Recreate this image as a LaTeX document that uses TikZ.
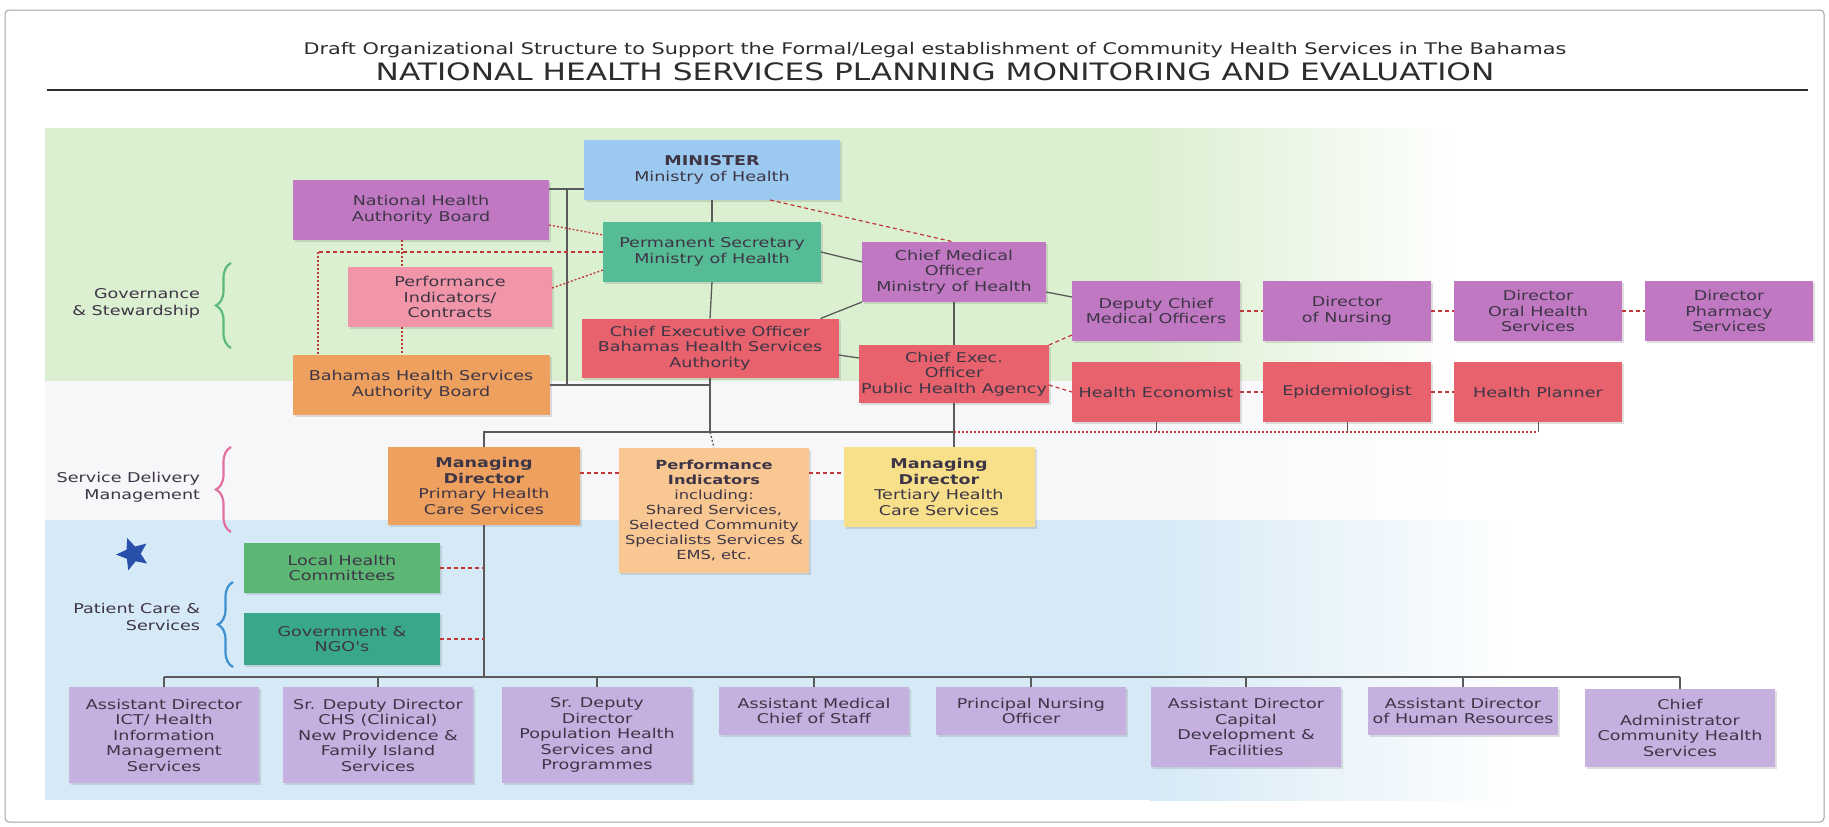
\documentclass[tikz,border=0pt]{standalone}
\usepackage{fontspec}
\newfontfamily\widefont[FakeStretch=1.3]{DejaVu Sans}
\definecolor{Blu}{RGB}{155,201,240}
\definecolor{Pur}{RGB}{192,120,194}
\definecolor{Tea}{RGB}{86,188,150}
\definecolor{Pnk}{RGB}{240,150,168}
\definecolor{Rdb}{RGB}{231,98,108}
\definecolor{Org}{RGB}{238,160,94}
\definecolor{Pch}{RGB}{248,199,146}
\definecolor{Yel}{RGB}{248,224,138}
\definecolor{Grn}{RGB}{92,183,116}
\definecolor{Tel}{RGB}{57,168,138}
\definecolor{Lav}{RGB}{197,176,224}
\definecolor{Txt}{RGB}{62,54,70}
\definecolor{Ttl}{RGB}{45,45,45}
\definecolor{Lin}{RGB}{90,90,90}
\definecolor{Dsh}{RGB}{192,55,55}
\definecolor{BgG}{RGB}{219,239,209}
\definecolor{BgM}{RGB}{247,246,249}
\definecolor{BgB}{RGB}{213,233,246}
\definecolor{Bgr}{RGB}{93,187,122}
\definecolor{Bpk}{RGB}{224,112,160}
\definecolor{Bbl}{RGB}{61,143,208}
\definecolor{Str}{RGB}{40,80,170}
\definecolor{Frm}{RGB}{160,160,160}
\usepackage{tikz}
\usetikzlibrary{positioning}
\usetikzlibrary{shadows}
\usetikzlibrary{shapes.geometric}
\usetikzlibrary{decorations.pathreplacing}
\tikzstyle{base}=[x=1pt, y=-1pt, inner sep=0pt, outer sep=0pt]
\tikzstyle{box}=[align=center, inner sep=2pt, text=Txt, font=\widefont\fontsize{13.5}{15.5}\selectfont, drop shadow={shadow xshift=2pt, shadow yshift=-2pt, opacity=0.25}]
\tikzstyle{lowbox}=[box, fill=Lav, anchor=north, minimum width=190pt]
\tikzstyle{conn}=[draw=Lin, line width=1.3pt]
\tikzstyle{dsh}=[draw=Dsh, line width=1.2pt, dash pattern=on 4pt off 3pt]
\tikzstyle{dot}=[draw=Dsh, line width=1.3pt, dash pattern=on 2pt off 2pt]
\tikzstyle{grp}=[decorate, decoration={brace, amplitude=15pt}, line width=2.2pt]
\tikzstyle{side}=[anchor=east, align=right, text=Txt, font=\widefont\fontsize{13.5}{17}\selectfont]

\begin{document}
\begin{tikzpicture}[base]
    \widefont
        \useasboundingbox (0,0) rectangle (1829,827);
        \fill [white] (0,0) rectangle (1829,827);
        \fill [BgG] (45,128) rectangle (1150,381);
        \shade [left color=BgG, right color=white] (1150,128) rectangle (1460,381);
        \fill [BgM] (45,381) rectangle (1150,520);
        \shade [left color=BgM, right color=white] (1150,381) rectangle (1460,520);
        \fill [BgB] (45,520) rectangle (1150,800);
        \shade [left color=BgB, right color=white] (1150,520) rectangle (1520,800);
        \draw [Frm, line width=1pt, rounded corners=4pt] (5,10) rectangle (1824,822);

        \node [text=Ttl, font=\widefont\fontsize{16}{19}\selectfont] (sub) at (935,50) {Draft Organizational Structure to Support the Formal/Legal establishment of Community Health Services in The Bahamas};
        \node [text=Ttl, font=\widefont\fontsize{24}{28}\selectfont] (ttl) at (935,72) {NATIONAL HEALTH SERVICES PLANNING MONITORING AND EVALUATION};
        \draw [Ttl, line width=2pt] (47,90) -- (1808,90);

        \node [box, fill=Blu, minimum width=256pt, minimum height=60pt] (min) at (712,170) {\bfseries MINISTER\\Ministry of Health};
        \node [box, fill=Pur, minimum width=256pt, minimum height=60pt] (nhab) at (421,210) {National Health\\Authority Board};
        \node [box, fill=Tea, minimum width=218pt, minimum height=60pt] (ps) at (712,252) {Permanent Secretary\\Ministry of Health};
        \node [box, fill=Pur, minimum width=184pt, minimum height=60pt] (cmo) at (954,272) {Chief Medical\\Officer\\Ministry of Health};
        \node [box, fill=Pnk, minimum width=204pt, minimum height=60pt] (pic) at (450,297) {Performance\\Indicators/\\Contracts};
        \node [box, fill=Rdb, minimum width=257pt, minimum height=59pt] (ceo) at (710,348) {Chief Executive Officer\\Bahamas Health Services\\Authority};
        \node [box, fill=Rdb, minimum width=186pt, minimum height=58pt] (pha) at (954,374) {Chief Exec.\\Officer\\Public Health Agency};
        \node [box, fill=Org, minimum width=257pt, minimum height=60pt] (bhsab) at (421,385) {Bahamas Health Services\\Authority Board};

        \node [box, fill=Pur, minimum width=168pt, minimum height=60pt] (dcmo) at (1156,311) {Deputy Chief\\Medical Officers};
        \node [box, fill=Pur, minimum width=168pt, minimum height=60pt, right=23pt of dcmo] (dnur) {Director\\of Nursing};
        \node [box, fill=Pur, minimum width=168pt, minimum height=60pt, right=23pt of dnur] (doral) {Director\\Oral Health\\Services};
        \node [box, fill=Pur, minimum width=168pt, minimum height=60pt, right=23pt of doral] (dphar) {Director\\Pharmacy\\Services};
        \node [box, fill=Rdb, minimum width=168pt, minimum height=60pt] (hec) at (1156,392) {Health Economist};
        \node [box, fill=Rdb, minimum width=168pt, minimum height=60pt, right=23pt of hec] (epi) {Epidemiologist};
        \node [box, fill=Rdb, minimum width=168pt, minimum height=60pt, right=23pt of epi] (hpl) {Health Planner};

        \node [box, fill=Org, minimum width=192pt, minimum height=78pt] (mdp) at (484,486) {\bfseries Managing\\\bfseries Director\\Primary Health\\Care Services};
        \node [box, fill=Pch, minimum width=190pt, minimum height=125pt, font=\widefont\fontsize{12.5}{15}\selectfont] (pi) at (714,510) {\bfseries Performance\\\bfseries Indicators\\including:\\Shared Services,\\Selected Community\\Specialists Services \&\\EMS, etc.};
        \node [box, fill=Yel, minimum width=191pt, minimum height=80pt] (mdt) at (939,487) {\bfseries Managing\\\bfseries Director\\Tertiary Health\\Care Services};
        \node [box, fill=Grn, minimum width=196pt, minimum height=50pt] (lhc) at (342,568) {Local Health\\Committees};
        \node [box, fill=Tel, minimum width=196pt, minimum height=52pt] (gov) at (342,639) {Government \&\\NGO's};

        \node [lowbox, minimum height=96pt] (b1) at (164,687) {Assistant Director\\ICT/ Health\\Information\\Management\\Services};
        \node [lowbox, minimum height=96pt] (b2) at (378,687) {Sr. Deputy Director\\CHS (Clinical)\\New Providence \&\\Family Island\\Services};
        \node [lowbox, minimum height=96pt] (b3) at (597,687) {Sr. Deputy\\Director\\Population Health\\Services and\\Programmes};
        \node [lowbox, minimum height=48pt] (b4) at (814,687) {Assistant Medical\\Chief of Staff};
        \node [lowbox, minimum height=48pt] (b5) at (1031,687) {Principal Nursing\\Officer};
        \node [lowbox, minimum height=80pt] (b6) at (1246,687) {Assistant Director\\Capital\\Development \&\\Facilities};
        \node [lowbox, minimum height=48pt] (b7) at (1463,687) {Assistant Director\\of Human Resources};
        \node [lowbox, minimum height=78pt] (b8) at (1680,689) {Chief\\Administrator\\Community Health\\Services};

        \node [side] (gslab) at (200,303) {Governance\\\& Stewardship};
        \node [side] (sdlab) at (200,487) {Service Delivery\\Management};
        \node [side] (pclab) at (200,617) {Patient Care \&\\Services};
        \draw [grp, Bgr] (231,348) -- (231,263);
        \draw [grp, Bpk] (231,532) -- (231,447);
        \draw [grp, Bbl] (233,667) -- (233,582);
        \node [star, star points=5, star point ratio=2.2, fill=Str, minimum size=34pt, rotate=20] (icon) at (133,554) {};

        \coordinate (trunk) at (567,189);
        \coordinate (mdbar) at (0,432);
        \coordinate (lowbar) at (0,677);
        \coordinate (pcorner) at (318,252);
        \coordinate (pline) at (402,0);

        \draw [conn] (nhab.east |- trunk) -- (min.west |- trunk);
        \draw [conn] (trunk) -- (trunk |- bhsab.east);
        \draw [conn] (bhsab.east) -- (ceo.south |- bhsab.east);
        \draw [conn] (min.south) -- (ps.north);
        \draw [conn] (ps.south) -- (ceo.north);
        \draw [conn] (ceo.south) -- (ceo.south |- mdbar);
        \draw [conn] (mdp.north) -- (mdp.north |- mdbar) -- (pha.south |- mdbar);
        \draw [conn] (cmo.south) -- (pha.north);
        \draw [conn] (pha.south) -- (pha.south |- mdt.north);
        \draw [dot, draw=Lin] (ceo.south |- mdbar) -- (pi.north);
        \draw [conn] (ps.east) -- ([yshift=10pt]cmo.west);
        \draw [conn] ([xshift=-18pt]ceo.north east) -- (cmo.south west);
        \draw [conn] ([yshift=-7pt]ceo.east) -- ([yshift=16pt]pha.west);
        \draw [conn] ([yshift=-20pt]cmo.east) -- ([yshift=14pt]dcmo.west);

        \draw [dsh] ([xshift=58pt]min.south) -- (cmo.north);
        \draw [dsh] (pha.north east) -- ([yshift=6pt]dcmo.south west);
        \draw [dsh] ([yshift=-11pt]pha.east) -- (hec.west);
        \draw [dsh] (dcmo.east) -- (dnur.west);
        \draw [dsh] (dnur.east) -- (doral.west);
        \draw [dsh] (doral.east) -- (dphar.west);
        \draw [dsh] (hec.east) -- (epi.west);
        \draw [dsh] (epi.east) -- (hpl.west);
        \draw [dot] (pha.south |- mdbar) -- (hpl.south |- mdbar);
        \draw [conn, line width=1pt] (hec.south) -- (hec.south |- mdbar);
        \draw [conn, line width=1pt] (epi.south) -- (epi.south |- mdbar);
        \draw [conn, line width=1pt] (hpl.south) -- (hpl.south |- mdbar);

        \draw [dot] ([yshift=-15pt]nhab.east) -- ([yshift=17pt]ps.west);
        \draw [dsh] (ps.west) -- (pcorner);
        \draw [dot] (pcorner) -- (pcorner |- bhsab.north);
        \draw [dot] (nhab.south -| pline) -- (pic.north -| pline);
        \draw [dot] (pic.south -| pline) -- (bhsab.north -| pline);
        \draw [dot] ([yshift=9pt]pic.east) -- ([yshift=-18pt]ps.west);

        \draw [dsh] ([yshift=13pt]mdp.east) -- ([yshift=13pt]mdp.east -| pi.west);
        \draw [dsh] ([yshift=13pt]mdp.east -| pi.east) -- ([yshift=13pt]mdp.east -| mdt.west);
        \draw [conn] (mdp.south) -- (mdp.south |- lowbar);
        \draw [dsh] (lhc.east) -- (lhc.east -| mdp.south);
        \draw [dsh] (gov.east) -- (gov.east -| mdp.south);

        \draw [conn] (b1.north |- lowbar) -- (b8.north |- lowbar);
        \draw [conn] (b1.north) -- (b1.north |- lowbar);
        \draw [conn] (b2.north) -- (b2.north |- lowbar);
        \draw [conn] (b3.north) -- (b3.north |- lowbar);
        \draw [conn] (b4.north) -- (b4.north |- lowbar);
        \draw [conn] (b5.north) -- (b5.north |- lowbar);
        \draw [conn] (b6.north) -- (b6.north |- lowbar);
        \draw [conn] (b7.north) -- (b7.north |- lowbar);
        \draw [conn] (b8.north) -- (b8.north |- lowbar);
\end{tikzpicture}
\end{document}
